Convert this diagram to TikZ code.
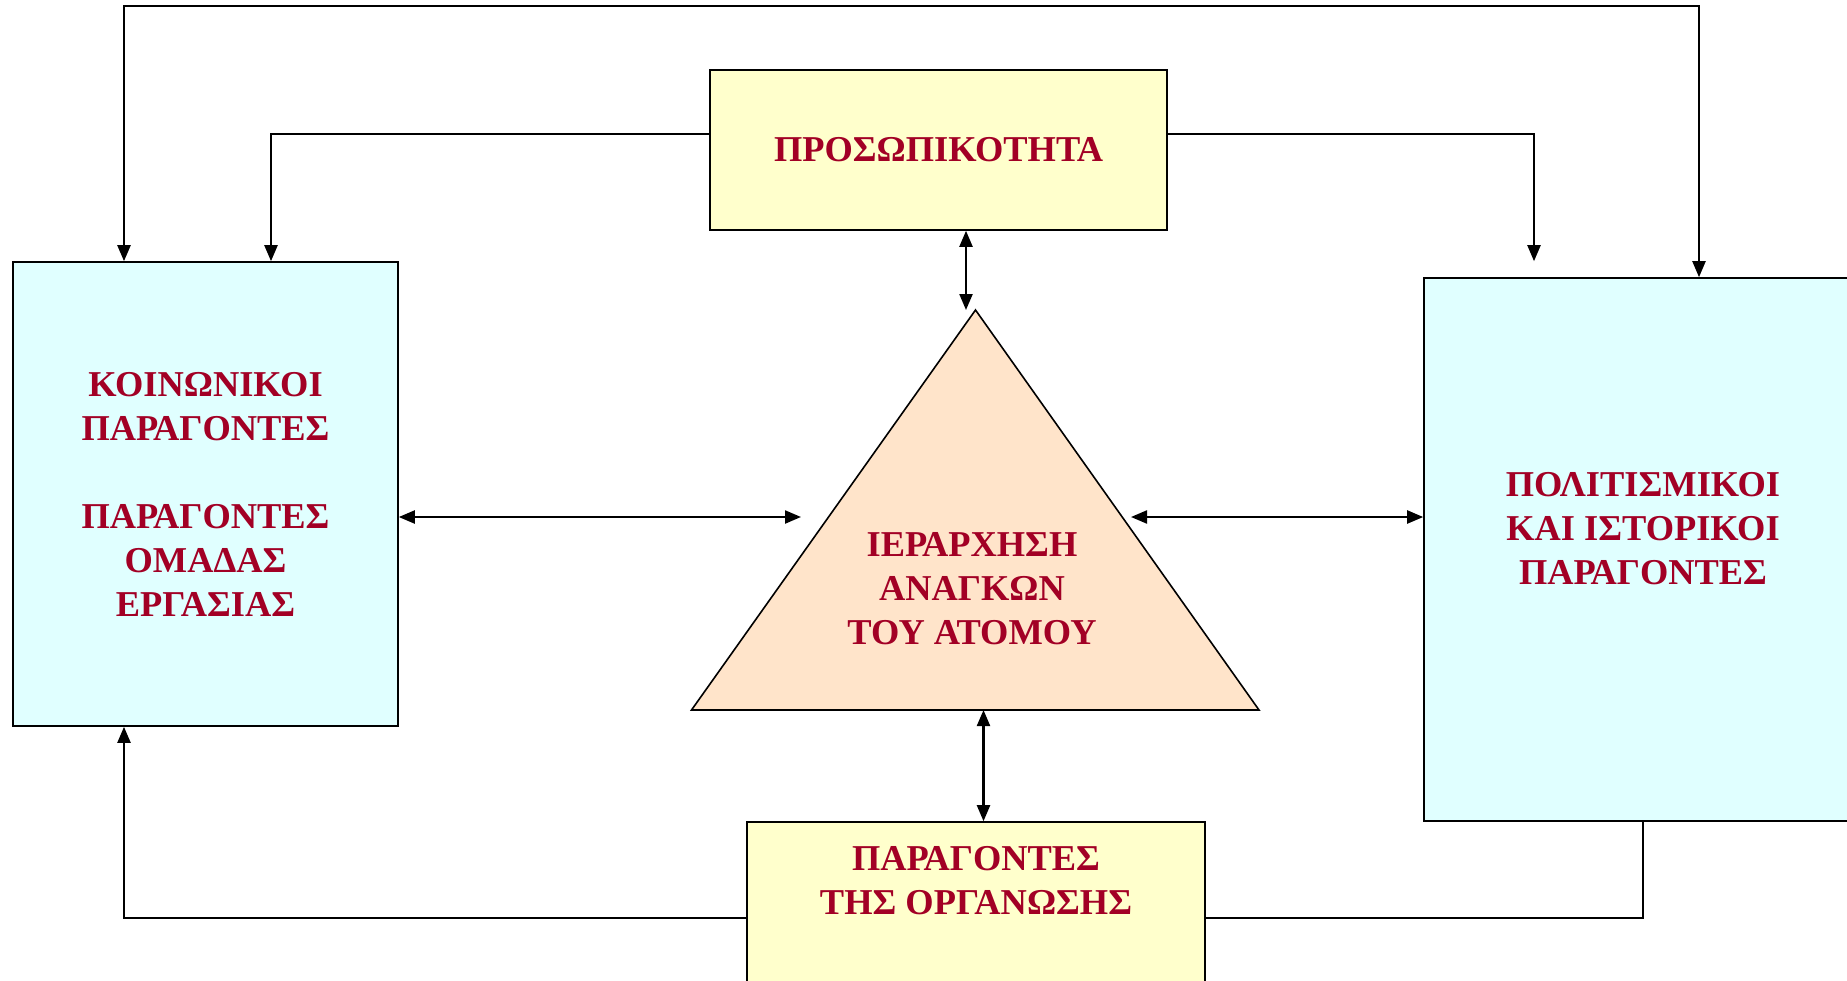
\documentclass[tikz,border=0pt]{standalone}
\usepackage{fontspec}
\setmainfont{Liberation Serif}
\usetikzlibrary{arrows.meta}
\definecolor{textred}{HTML}{A20025}
\definecolor{boxcyan}{HTML}{E0FFFF}
\definecolor{boxyellow}{HTML}{FFFFCC}
\definecolor{trifill}{HTML}{FFE4CA}
\tikzset{
	lbl/.style={font=\fontsize{18.2}{22}\selectfont\bfseries, text=textred, align=center},
	cyanbox/.style={draw, line width=0.8pt, fill=boxcyan, inner sep=0pt},
	yellowbox/.style={draw, line width=0.8pt, fill=boxyellow, inner sep=0pt},
	arr/.style={line width=1.1pt, -{Triangle[length=8pt,width=6.5pt]}},
	dbl/.style={line width=1.1pt, {Triangle[length=8pt,width=6.5pt]}-{Triangle[length=8pt,width=6.5pt]}},
	plain/.style={line width=1.1pt}
}

\begin{document}
\begin{tikzpicture}[x=0.5pt,y=-0.5pt]
			%%%%% START %%%%%
			\useasboundingbox (0,0) rectangle (1847,980);
			\clip (0,0) rectangle (1847,980);
			
			% boxes
			\node[yellowbox, minimum width=228.5pt, minimum height=80pt, lbl] (pros) at (938.5,150) {ΠΡΟΣΩΠΙΚΟΤΗΤΑ};
			\node[cyanbox, minimum width=192.5pt, minimum height=232pt, lbl] (koin) at (205.5,494) {ΚΟΙΝΩΝΙΚΟΙ\\ΠΑΡΑΓΟΝΤΕΣ\\[22pt]ΠΑΡΑΓΟΝΤΕΣ\\ΟΜΑΔΑΣ\\ΕΡΓΑΣΙΑΣ};
			\node[cyanbox, minimum width=219pt, minimum height=271.5pt] (polit) at (1643,549.5) {};
			\node[lbl] (polittext) at (1643,529) {ΠΟΛΙΤΙΣΜΙΚΟΙ\\ΚΑΙ ΙΣΤΟΡΙΚΟΙ\\ΠΑΡΑΓΟΝΤΕΣ};
			\node[yellowbox, minimum width=229pt, minimum height=94pt] (org) at (976,916) {};
			\node[lbl] (orgtext) at (976,881) {ΠΑΡΑΓΟΝΤΕΣ\\ΤΗΣ ΟΡΓΑΝΩΣΗΣ};
			
			% triangle
			\coordinate (apex) at (975.5,310);
			\coordinate (baseL) at (691.5,710);
			\coordinate (baseR) at (1259,710);
			\draw[line width=0.8pt, fill=trifill] (apex) -- (baseR) -- (baseL) -- cycle;
			\node[lbl] (ierar) at (972,589) {ΙΕΡΑΡΧΗΣΗ\\ΑΝΑΓΚΩΝ\\ΤΟΥ ΑΤΟΜΟΥ};
			
			% connectors
			\coordinate (topL) at (124,6);
			\coordinate (topR) at (1699,6);
			\draw[dbl] (koin.north -| topL) -- (topL) -- (topR) -- (polit.north -| topR);
			
			\coordinate (pl) at (271,134);
			\coordinate (pr) at (1534,134);
			\draw[arr] (pros.west |- pl) -- (pl) -- (koin.north -| pl);
			\draw[arr] (pros.east |- pr) -- (pr) -- (koin.north -| pr);
			
			\coordinate (tu) at (966,310);
			\draw[dbl] (pros.south -| tu) -- (tu);
			\coordinate (tb) at (983.5,710);
			\draw[dbl] (tb) -- (org.north -| tb);
			
			\coordinate (tl) at (801,517);
			\coordinate (tr) at (1131,517);
			\draw[dbl] (koin.east |- tl) -- (tl);
			\draw[dbl] (tr) -- (polit.west |- tr);
			
			\coordinate (bl) at (124,918);
			\coordinate (br) at (1643,918);
			\draw[arr] (org.west |- bl) -- (bl) -- (koin.south -| bl);
			\draw[plain] (org.east |- br) -- (br) -- (polit.south -| br);
			%%%%% END %%%%%
\end{tikzpicture}
\end{document}
